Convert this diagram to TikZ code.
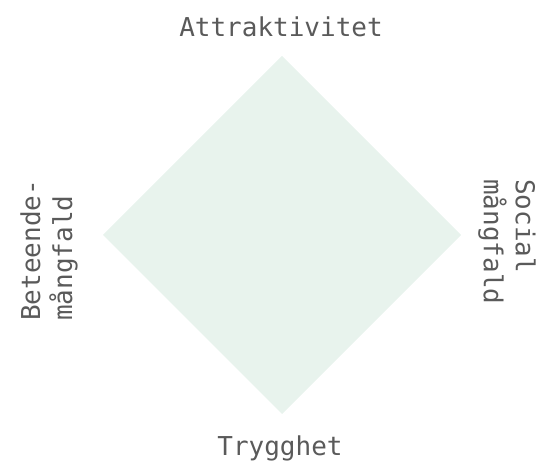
\documentclass[tikz,border=0pt]{standalone}
\usepackage{fontspec}
\setmonofont{DejaVu Sans Mono}
\usepackage{xcolor}
\definecolor{mint}{RGB}{232,243,237}
\definecolor{labelgray}{RGB}{90,90,90}
\tikzset{
  axislabel/.style={text=labelgray, font=\ttfamily\fontsize{26}{32}\selectfont, inner sep=0pt, align=left}
}

\begin{document}
\begin{tikzpicture}[x=1pt,y=1pt]
    % border
    \useasboundingbox (0,0) rectangle (537,462);
    % diamond
    \fill[mint] (282,406) -- (461,227) -- (282,48) -- (103,227) -- cycle;
    % labels
    \node[axislabel] (attr) at (281,435) {Attraktivitet};
    \node[axislabel] (tryg) at (280,14) {Trygghet};
    \node[axislabel, rotate=90, anchor=west] (beteende) at (49,141) {Beteende-\\mångfald};
    \node[axislabel, rotate=-90, anchor=west] (social) at (507,283) {Social\\mångfald};
\end{tikzpicture}
\end{document}
